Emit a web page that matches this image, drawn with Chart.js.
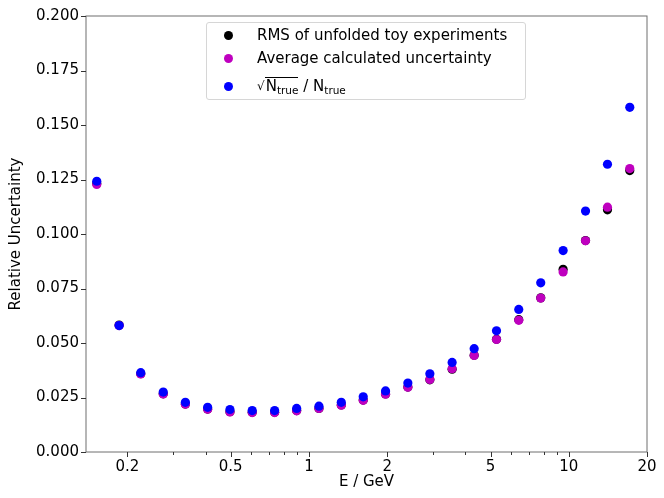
<!DOCTYPE html>
<html>
<head>
<meta charset="utf-8">
<script src="https://cdn.jsdelivr.net/npm/chart.js@4.4.1/dist/chart.umd.min.js"></script>
<style>
  html, body { margin:0; padding:0; background:#fff; }
  #wrap { position:relative; width:664px; height:498px; }
  #legend { position:absolute; left:206px; top:22px; width:320px; height:78px;
    border:1px solid #d6d6d6; border-radius:3px; background:rgba(255,255,255,0.85);
    font-family:'DejaVu Sans', sans-serif; font-size:15px; color:#000; box-sizing:border-box; }
  .row { position:absolute; left:0; height:20px; line-height:20px; white-space:nowrap; }
  .dot { position:absolute; left:17px; top:5.5px; width:9px; height:9px; border-radius:50%; }
  .txt { position:absolute; left:50px; top:0; }
  .ov { border-top:1px solid #000; padding-left:1px; display:inline-block; line-height:17px; }
  sub { font-size:10.5px; vertical-align:-3px; line-height:0; }
  .rad { font-size:12px; display:inline-block; vertical-align:1px; }
</style>
</head>
<body>
<div id="wrap">
  <canvas id="c" width="664" height="498"></canvas>
  <div id="legend">
    <div class="row" style="top:2px;"><span class="dot" style="background:#000"></span><span class="txt">RMS of unfolded toy experiments</span></div>
    <div class="row" style="top:25px;"><span class="dot" style="background:#bf00bf"></span><span class="txt">Average calculated uncertainty</span></div>
    <div class="row" style="top:53px;"><span class="dot" style="background:#0000ff"></span><span class="txt"><span class="rad">√</span><span class="ov">N<sub>true</sub></span> / N<sub>true</sub></span></div>
  </div>
</div>
<script>
const energies = [0.1526, 0.186, 0.2253, 0.275, 0.3346, 0.4076, 0.4967, 0.605, 0.738, 0.897,
                  1.093, 1.332, 1.618, 1.972, 2.403, 2.920, 3.557, 4.324, 5.27, 6.42,
                  7.80, 9.51, 11.6, 14.09, 17.17];
const rmsToy   = [0.1232, 0.0582, 0.0359, 0.0267, 0.0220, 0.0197, 0.0185, 0.0182, 0.0182, 0.0190,
                  0.0200, 0.0216, 0.0238, 0.0266, 0.0298, 0.0331, 0.0380, 0.0444, 0.0517, 0.0607,
                  0.0707, 0.0838, 0.0970, 0.1111, 0.1291];
const avgCalc  = [0.1227, 0.0580, 0.0358, 0.0266, 0.0219, 0.0196, 0.0184, 0.0181, 0.0181, 0.0189,
                  0.0200, 0.0215, 0.0237, 0.0265, 0.0297, 0.0333, 0.0382, 0.0443, 0.0516, 0.0604,
                  0.0706, 0.0826, 0.0969, 0.1123, 0.1300];
const sqrtN    = [0.1242, 0.0580, 0.0364, 0.0275, 0.0228, 0.0205, 0.0195, 0.0190, 0.0190, 0.0200,
                  0.0210, 0.0228, 0.0253, 0.0280, 0.0316, 0.0359, 0.0411, 0.0474, 0.0556, 0.0654,
                  0.0776, 0.0924, 0.1105, 0.1320, 0.1581];
const xMajorTicks = [0.2, 0.5, 1, 2, 5, 10, 20];
const xMinorTicks = [0.3, 0.4, 0.6, 0.7, 0.8, 0.9, 3, 4, 6, 7, 8, 9];
const yTicks = [0, 0.025, 0.05, 0.075, 0.1, 0.125, 0.15, 0.175, 0.2];

const FONT = { family: "'DejaVu Sans', sans-serif", size: 15 };
const toPts = (ys) => energies.map((x, i) => ({ x: x, y: ys[i] }));

const frameTicks = {
  id: 'frameTicks',
  afterDraw(chart) {
    const { ctx, chartArea: { left, right, top, bottom }, scales: { x, y } } = chart;
    ctx.save();
    ctx.strokeStyle = '#6e6e6e';
    ctx.lineWidth = 1;
    ctx.strokeRect(left, top, right - left, bottom - top);
    ctx.strokeStyle = '#333';
    ctx.beginPath();
    x.ticks.forEach(t => {
      const px = Math.round(x.getPixelForValue(t.value)) + 0.5;
      const len = xMajorTicks.includes(t.value) ? 5 : 3;
      ctx.moveTo(px, bottom); ctx.lineTo(px, bottom + len);
    });
    y.ticks.forEach(t => {
      const py = Math.round(y.getPixelForValue(t.value)) + 0.5;
      ctx.moveTo(left, py); ctx.lineTo(left - 5, py);
    });
    ctx.stroke();
    ctx.restore();
  }
};

new Chart(document.getElementById('c'), {
  type: 'scatter',
  data: {
    datasets: [
      { label: 'RMS of unfolded toy experiments', data: toPts(rmsToy), backgroundColor: '#000000', order: 3 },
      { label: 'Average calculated uncertainty', data: toPts(avgCalc), backgroundColor: '#bf00bf', order: 2 },
      { label: 'sqrt(N_true) / N_true', data: toPts(sqrtN), backgroundColor: '#0000ff', order: 1 }
    ]
  },
  options: {
    responsive: false,
    animation: false,
    devicePixelRatio: 1,
    layout: { padding: { top: 13, right: 17, left: 0, bottom: 0 } },
    elements: { point: { radius: 4.6, borderWidth: 0, hoverRadius: 4.6 } },
    plugins: { legend: { display: false }, tooltip: { enabled: false } },
    scales: {
      x: {
        type: 'logarithmic',
        min: 0.1387, max: 20,
        afterBuildTicks: (s) => {
          s.ticks = xMajorTicks.concat(xMinorTicks).sort((a, b) => a - b).map(v => ({ value: v, major: xMajorTicks.includes(v) }));
        },
        afterFit: (s) => { s.height = 46; },
        grid: { display: false, drawTicks: false },
        border: { display: false },
        ticks: {
          autoSkip: false, maxRotation: 0, minRotation: 0, padding: 6,
          color: '#000', font: FONT,
          callback: (v) => xMajorTicks.includes(v) ? String(v) : ''
        },
        title: { display: true, text: 'E / GeV', color: '#000', font: FONT, padding: { top: 0, bottom: 7 } }
      },
      y: {
        type: 'linear',
        min: 0, max: 0.2,
        afterBuildTicks: (s) => { s.ticks = yTicks.map(v => ({ value: v })); },
        afterFit: (s) => { s.width = 86; },
        grid: { display: false, drawTicks: false },
        border: { display: false },
        ticks: {
          padding: 7, color: '#000', font: FONT,
          callback: (v) => Number(v).toFixed(3)
        },
        title: { display: true, text: 'Relative Uncertainty', color: '#000', font: FONT, padding: { top: 7, bottom: 0 } }
      }
    }
  },
  plugins: [frameTicks]
});
</script>
</body>
</html>
